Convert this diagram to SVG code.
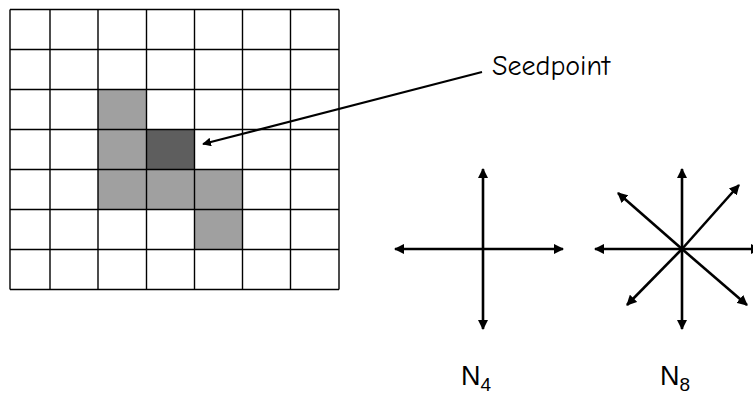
<svg xmlns="http://www.w3.org/2000/svg" width="753" height="398" viewBox="0 0 753 398">
<style>
.grid{stroke:#000;stroke-width:1.4;fill:none}
.lg{fill:#a0a0a0}
.dg{fill:#5e5e5e}
.ar{stroke:#000;stroke-width:2.6;fill:none;marker-start:url(#ah);marker-end:url(#ah)}
.ad{stroke:#000;stroke-width:2.6;fill:none;marker-end:url(#ah)}
.sa{stroke:#000;stroke-width:2.2;fill:none;marker-end:url(#ah)}
.t{font-family:"Comic Neue","DejaVu Sans","Liberation Sans",sans-serif;fill:#000}
.n{font-family:"Liberation Sans",Arial,sans-serif;fill:#000}
</style>
<defs>
<marker id="ah" viewBox="0 0 10 10" refX="9" refY="5" markerWidth="4" markerHeight="4" orient="auto-start-reverse" markerUnits="strokeWidth">
<path d="M0,0 L10,5 L0,10 z" fill="#000"/>
</marker>
</defs>
<g id="grid">
<rect class="lg" x="98" y="89.5" width="48.5" height="120"/>
<rect class="lg" x="146.5" y="169.5" width="48" height="40"/>
<rect class="lg" x="194.5" y="169.5" width="48" height="80"/>
<rect class="dg" x="146.5" y="129.5" width="48" height="40"/>
<path class="grid" d="M10,9.5V289.5M50,9.5V289.5M98,9.5V289.5M146.5,9.5V289.5M194.5,9.5V289.5M242.5,9.5V289.5M290.5,9.5V289.5M339,9.5V289.5M10,9.5H339M10,49.5H339M10,89.5H339M10,129.5H339M10,169.5H339M10,209.5H339M10,249.5H339M10,289.5H339"/>
</g>
<g id="seedpoint-label">
<text class="t" x="492" y="75" font-size="29" textLength="118" lengthAdjust="spacingAndGlyphs">Seedpoint</text>
</g>
<g id="n4">
<text class="n" x="461" y="385" font-size="27">N<tspan font-size="19" dy="6">4</tspan></text>
</g>
<g id="n8">
<text class="n" x="660" y="385" font-size="27">N<tspan font-size="19" dy="6">8</tspan></text>
</g>
<g id="connectors">
<line class="sa" x1="482" y1="72" x2="203" y2="144"/>
<line class="ar" x1="395" y1="249" x2="563" y2="249"/>
<line class="ar" x1="483" y1="169" x2="483" y2="329"/>
<line class="ar" x1="595" y1="249" x2="760" y2="249"/>
<line class="ar" x1="682" y1="169" x2="682" y2="329"/>
<line class="ad" x1="682" y1="249" x2="618" y2="193"/>
<line class="ad" x1="682" y1="249" x2="739" y2="185"/>
<line class="ad" x1="682" y1="249" x2="627" y2="305"/>
<line class="ad" x1="682" y1="249" x2="747" y2="305"/>
</g>
</svg>
